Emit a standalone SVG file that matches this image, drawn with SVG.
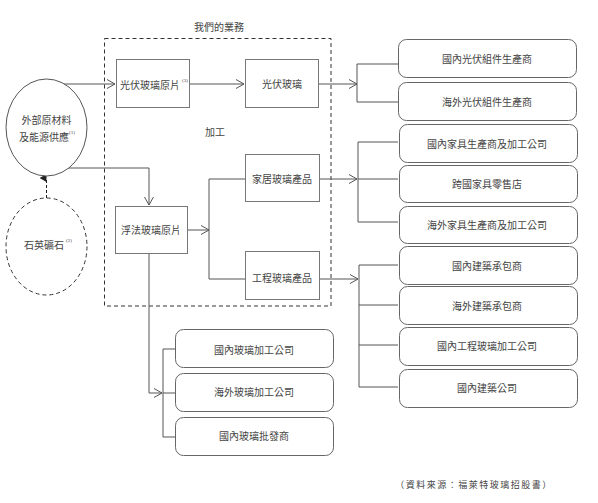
<svg xmlns="http://www.w3.org/2000/svg" width="598" height="503" viewBox="0 0 598 503">
<style>
text{font-family:"Liberation Serif","Noto Sans CJK TC",serif;font-size:10px;fill:#444;text-anchor:middle;dominant-baseline:central}
.sup{font-size:5px}
.box{fill:#fff;stroke:#777;stroke-width:1}
.rbox{fill:#fff;stroke:#666;stroke-width:1}
.ln{fill:none;stroke:#555;stroke-width:1}
.arr{fill:none;stroke:#555;stroke-width:1;marker-end:url(#open)}
.dash{fill:none;stroke:#333;stroke-width:1;stroke-dasharray:4 3}
</style>
<defs>
<marker id="open" markerWidth="10" markerHeight="10" refX="9" refY="5" orient="auto" markerUnits="userSpaceOnUse">
<path d="M1,0.5 L9,5 L1,9.5" fill="none" stroke="#555" stroke-width="1"/>
</marker>
<marker id="solid" markerWidth="8" markerHeight="8" refX="4" refY="7" orient="auto" markerUnits="userSpaceOnUse">
<path d="M0,7 L4,0 L8,7 Z" fill="#222"/>
</marker>
</defs>
<rect width="598" height="503" fill="#fff"/>

<g id="business">
<rect class="dash" x="104.5" y="38.5" width="226.5" height="267.5"/>
<text x="219" y="27">我們的業務</text>
<text x="215" y="132">加工</text>
</g>

<g id="connectors">
<line class="arr" x1="63" y1="84" x2="115" y2="84"/>
<line class="arr" x1="190" y1="84" x2="244" y2="84"/>
<line class="arr" x1="319" y1="84" x2="357" y2="84"/>
<polyline class="arr" points="68,168 149,168 149,205"/>
<line class="arr" x1="187" y1="230" x2="209" y2="230"/>
<polyline class="ln" points="245,179 209,179 209,279 245,279"/>
<line class="arr" x1="319" y1="179" x2="357" y2="179"/>
<line class="arr" x1="319" y1="279" x2="358" y2="279"/>
<polyline class="arr" points="149,253 149,393 162,393"/>
<line x1="46.5" y1="198" x2="46.5" y2="178" stroke="#222" stroke-width="1" stroke-dasharray="3 2" marker-end="url(#solid)"/>
<polyline class="ln" points="398,64 357,64 357,102 398,102"/>
<polyline class="ln" points="398,142 358,142 358,222 398,222"/>
<line class="ln" x1="358" y1="179" x2="398" y2="179"/>
<polyline class="ln" points="398,265 359,265 359,387 398,387"/>
<line class="ln" x1="359" y1="305" x2="398" y2="305"/>
<line class="ln" x1="359" y1="345" x2="398" y2="345"/>
<polyline class="ln" points="175,349 163,349 163,437 175,437"/>
<line class="ln" x1="163" y1="393" x2="175" y2="393"/>
</g>

<g id="supply">
<ellipse cx="46.5" cy="127.5" rx="40.5" ry="48.5" fill="#fff" stroke="#555"/>
<text x="46.5" y="120">外部原材料</text>
<text x="44" y="137">及能源供應</text>
<text class="sup" x="72" y="132">(1)</text>
</g>

<g id="quartz">
<ellipse cx="46.5" cy="246.5" rx="40.5" ry="48.5" fill="#fff" stroke="#333" stroke-dasharray="4 3"/>
<text x="44" y="245">石英礦石</text>
<text class="sup" x="69" y="240">(2)</text>
</g>

<g id="pv-raw">
<rect class="box" x="116.5" y="59.5" width="73" height="48"/>
<text x="150" y="85">光伏玻璃原片</text>
<text class="sup" x="185" y="80">(3)</text>
</g>
<g id="pv-glass">
<rect class="box" x="245.5" y="59.5" width="73" height="48"/>
<text x="282" y="84">光伏玻璃</text>
</g>
<g id="float-raw">
<rect class="box" x="115.5" y="206.5" width="72" height="47"/>
<text x="151" y="230">浮法玻璃原片</text>
</g>
<g id="home-glass">
<rect class="box" x="245.5" y="154.5" width="74" height="47"/>
<text x="282" y="179">家居玻璃產品</text>
</g>
<g id="eng-glass">
<rect class="box" x="245.5" y="251.5" width="74" height="48"/>
<text x="282" y="278">工程玻璃產品</text>
</g>

<g id="c1"><rect class="rbox" x="398.5" y="39.5" width="178" height="38" rx="8"/><text x="487" y="59">國內光伏組件生產商</text></g>
<g id="c2"><rect class="rbox" x="398.5" y="82.5" width="178" height="38" rx="8"/><text x="487" y="102">海外光伏組件生產商</text></g>
<g id="c3"><rect class="rbox" x="399.5" y="124.5" width="178" height="38" rx="8"/><text x="487" y="144">國內家具生產商及加工公司</text></g>
<g id="c4"><rect class="rbox" x="399.5" y="165.5" width="178" height="37" rx="8"/><text x="487" y="184">跨國家具零售店</text></g>
<g id="c5"><rect class="rbox" x="399.5" y="206.5" width="178" height="37" rx="8"/><text x="487" y="225">海外家具生產商及加工公司</text></g>
<g id="c6"><rect class="rbox" x="399.5" y="246.5" width="178" height="38" rx="8"/><text x="487" y="266">國內建築承包商</text></g>
<g id="c7"><rect class="rbox" x="399.5" y="286.5" width="178" height="38" rx="8"/><text x="487" y="306">海外建築承包商</text></g>
<g id="c8"><rect class="rbox" x="399.5" y="327.5" width="178" height="38" rx="8"/><text x="487" y="346">國內工程玻璃加工公司</text></g>
<g id="c9"><rect class="rbox" x="399.5" y="369.5" width="178" height="38" rx="8"/><text x="487" y="388">國內建築公司</text></g>

<g id="d1"><rect class="rbox" x="175.5" y="329.5" width="158" height="38" rx="8"/><text x="254" y="350">國內玻璃加工公司</text></g>
<g id="d2"><rect class="rbox" x="175.5" y="373.5" width="158" height="38" rx="8"/><text x="254" y="392">海外玻璃加工公司</text></g>
<g id="d3"><rect class="rbox" x="175.5" y="417.5" width="158" height="38" rx="8"/><text x="254" y="436">國內玻璃批發商</text></g>

<text x="474" y="485" style="font-size:9px;letter-spacing:1.5px">（資料來源：福萊特玻璃招股書）</text>
</svg>
